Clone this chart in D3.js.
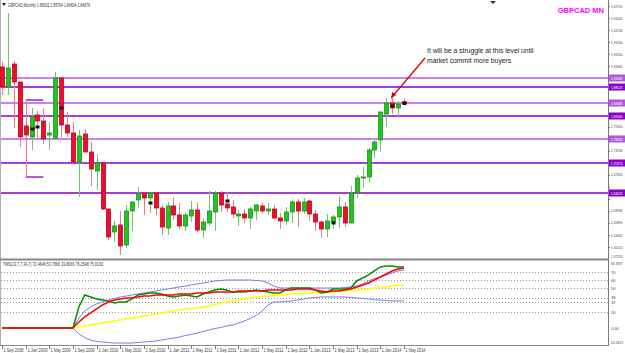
<!DOCTYPE html>
<html>
<head>
<meta charset="utf-8">
<script src="https://cdn.jsdelivr.net/npm/d3@7/dist/d3.min.js"></script>
<style>
body { margin: 0; background: #fff; }
svg text { font-family: "Liberation Sans", Arial, sans-serif; }
</style>
</head>
<body>
<svg id="chart" width="625" height="353"></svg>
<script>
// GBPCAD monthly candles, Sep 2008 .. May 2014
const openPrices = [1.9332,1.8852,1.9404,1.8972,1.7916,1.7652,1.8180,1.8036,1.7700,1.7628,
    1.9068,1.7940,1.7748,1.7051,1.7724,1.7291,1.6835,1.7027,1.5923,1.5371,
    1.5539,1.5059,1.5875,1.6139,1.6307,1.6187,1.6307,1.5947,1.5467,1.5995,
    1.5779,1.5515,1.5755,1.5899,1.5419,1.5587,1.5851,1.6307,1.6043,1.5971,
    1.5755,1.5803,1.5707,1.5875,1.5995,1.5875,1.5923,1.5707,1.5635,1.5851,
    1.6091,1.5875,1.6115,1.5803,1.5611,1.5443,1.5611,1.5731,1.5971,1.5587,
    1.6307,1.6667,1.6691,1.7339,1.7580,1.8204,1.8468,1.8348,1.8500];
const highPrices = [1.9452,2.0629,1.9476,1.8972,1.8540,1.8348,1.8276,1.8348,1.8012,1.9212,
    1.9068,1.8252,1.8012,1.7820,1.7844,1.7532,1.7243,1.7027,1.5923,1.5635,
    1.5875,1.6019,1.6091,1.6451,1.6331,1.6331,1.6331,1.6019,1.6091,1.6187,
    1.6067,1.5851,1.6115,1.6091,1.5707,1.6355,1.6355,1.6355,1.6331,1.6139,
    1.5899,1.5923,1.5971,1.6043,1.6067,1.6067,1.6019,1.5827,1.5971,1.6139,
    1.6163,1.6187,1.6139,1.5899,1.5635,1.5803,1.5779,1.6235,1.6091,1.6475,
    1.6739,1.6931,1.7388,1.7604,1.8252,1.8588,1.8588,1.8516,1.8576];
const lowPrices = [1.8660,1.8660,1.7868,1.7412,1.6691,1.7339,1.7580,1.7484,1.7339,1.7628,
    1.7652,1.7652,1.7051,1.6211,1.7291,1.6475,1.6379,1.5899,1.5179,1.5131,
    1.4818,1.4987,1.5395,1.5947,1.5779,1.5827,1.5779,1.5299,1.5299,1.5659,
    1.5443,1.5395,1.5611,1.5371,1.5227,1.5515,1.5395,1.5851,1.5851,1.5707,
    1.5515,1.5587,1.5443,1.5659,1.5827,1.5779,1.5659,1.5443,1.5539,1.5587,
    1.5491,1.5803,1.5635,1.5395,1.5227,1.5251,1.5443,1.5467,1.5491,1.5587,
    1.6187,1.6427,1.6547,1.7147,1.7291,1.7892,1.8204,1.8108,1.8463];
const closePrices = [1.8852,1.9308,1.8972,1.7652,1.7700,1.8132,1.8036,1.7604,1.7748,1.9068,
    1.7940,1.7748,1.7051,1.7676,1.7291,1.6883,1.7027,1.5923,1.5251,1.5515,
    1.5035,1.5875,1.6091,1.6283,1.6187,1.6307,1.5947,1.5491,1.5995,1.5779,
    1.5515,1.5779,1.5899,1.5419,1.5611,1.5875,1.6307,1.6019,1.5947,1.5803,
    1.5803,1.5707,1.5923,1.6019,1.5875,1.5923,1.5707,1.5635,1.5851,1.6091,
    1.5875,1.6091,1.5803,1.5611,1.5443,1.5635,1.5731,1.5971,1.5587,1.6307,
    1.6667,1.6691,1.7339,1.7532,1.8252,1.8468,1.8348,1.8444,1.8468];

const dateLabels = ["1 Sep 2008","1 Jan 2009","1 May 2009","1 Sep 2009","1 Jan 2010","1 May 2010",
    "1 Sep 2010","1 Jan 2011","1 May 2011","1 Sep 2011","1 Jan 2012","1 May 2012",
    "1 Sep 2012","1 Jan 2013","1 May 2013","1 Sep 2013","1 Jan 2014","1 May 2014"];

const priceTicks = [1.5011,1.5300,1.5589,1.5878,1.6167,1.6456,1.6745,1.7034,1.7323,1.7612,1.7901,
    1.8190,1.8479,1.8768,1.9057,1.9346,1.9635,1.9924,2.0213,2.0502,2.0791];

// horizontal levels drawn on the chart
const levelLight = [1.9068, 1.8468, 1.7604];
const levelDark = [1.8852, 1.8156, 1.7027, 1.6307];
const shortLevels = [1.8540, 1.6691];
const shortFrom = 4, shortTo = 7;

// black signal markers (bar index, price)
const markerIdx = [5, 6, 10, 25, 38, 56, 66, 68];
const markerPrice = [1.7844, 1.7892, 1.8348, 1.6067, 1.6115, 1.5587, 1.8396, 1.8456];

// TMS indicator (bands and base line start at bar 12)
const tmsGreen = [0,0,0,0,0,0,0,0,0,0,0,0,0,26.3,41.3,38.8,36.3,35.0,33.8,31.3,
    32.5,32.5,36.3,41.3,42.5,43.8,43.8,42.5,40.0,38.8,40.0,41.3,40.0,38.8,42.5,45.0,
    47.5,48.8,47.5,45.0,45.0,45.0,46.3,47.5,46.3,45.0,43.8,43.8,47.5,50.0,50.0,50.0,
    50.0,47.5,43.8,45.0,48.8,48.8,48.8,50.0,58.8,62.5,66.3,71.3,76.3,77.5,77.5,76.3,76.3];
const tmsRed = [0,0,0,0,0,0,0,0,0,0,0,0,0,7.5,13.8,18.8,23.8,28.8,32.5,35.0,
    36.3,37.5,37.5,38.8,40.0,40.0,41.3,41.3,41.3,41.3,42.5,42.5,42.5,43.8,43.8,43.8,
    45.0,45.0,45.0,45.0,46.3,46.3,46.3,46.3,46.3,47.5,47.5,47.5,47.5,47.5,48.8,48.8,
    48.8,47.5,46.3,45.0,46.3,46.3,47.5,48.8,51.3,53.8,56.3,60.0,63.8,67.5,71.3,73.8,75.0];
const tmsYellow = [0,1.3,2.5,3.8,5.0,6.3,7.5,8.8,10.0,11.3,12.5,13.8,15.0,16.3,17.5,18.8,
    20.0,21.3,22.5,23.8,24.4,25.0,26.3,27.5,29.4,31.3,32.5,33.8,35.0,36.3,37.5,38.8,
    39.4,40.0,40.6,41.3,41.9,42.5,42.5,43.1,43.8,43.8,43.8,44.4,45.0,45.6,46.3,46.9,
    47.5,48.1,48.8,50.0,50.6,51.3,52.5,53.1,53.8];
const tmsUpper = [0,12.5,21.3,26.3,30.0,32.5,35.0,36.9,38.8,40.0,41.3,42.5,43.8,45.0,
    46.3,47.5,48.8,50.0,51.3,52.5,53.8,55.0,56.3,57.5,58.8,59.4,60.0,60.0,60.0,60.0,
    60.0,59.4,58.8,56.3,52.5,50.0,50.0,50.0,50.0,50.0,50.0,50.0,50.0,50.0,50.0,50.0,
    50.6,51.3,52.5,55.0,58.8,61.9,63.8,66.3,68.8,71.3,72.5];
const tmsLower = [0,-7.5,-11.9,-15.0,-16.9,-17.5,-18.1,-18.8,-18.8,-18.8,-18.8,-18.1,
    -17.5,-16.9,-16.3,-15.0,-13.8,-12.5,-11.3,-9.4,-8.1,-6.3,-4.4,-2.5,-0.6,0.6,2.5,
    3.8,6.3,8.8,11.9,15.6,21.3,28.8,32.5,32.5,33.1,33.8,35.0,36.3,37.5,38.1,38.8,38.8,
    38.8,38.8,38.8,38.1,37.5,36.9,36.3,35.6,35.0,34.4,33.8,33.8,33.8];
const tmsStart = 12;
const tmsLevels = [70, 60, 50, 38, 32, 20];
const tmsLevelLabels = ["70", "60", "50", "38", "32", "20"];

const svg = d3.select("#chart");
const plotRight = 608;

var x = d3.scaleLinear().domain([0, 68]).range([2, 404]);
var y = d3.scaleLinear().domain([1.4722, 2.0941]).range([259, 0]);
var yi = d3.scaleLinear().domain([-21.25, 85]).range([345, 260]);

function smallText(xx, yy, str, size, fill, len) {
    var t = svg.append("text").attr("x", xx).attr("y", yy).attr("font-size", size)
        .attr("fill", fill).text(str);
    if (len) t.attr("textLength", len).attr("lengthAdjust", "spacingAndGlyphs");
    return t;
}

// frame
svg.append("line").attr("x1", 0.5).attr("x2", 0.5).attr("y1", 0).attr("y2", 346)
    .attr("stroke", "#b0b0b0").attr("stroke-width", 1);
svg.append("line").attr("x1", plotRight + 0.5).attr("x2", plotRight + 0.5).attr("y1", 0).attr("y2", 346)
    .attr("stroke", "#777").attr("stroke-width", 1);
svg.append("line").attr("x1", 0).attr("x2", plotRight).attr("y1", 259.5).attr("y2", 259.5)
    .attr("stroke", "#888").attr("stroke-width", 2);
svg.append("line").attr("x1", 0).attr("x2", plotRight).attr("y1", 345.5).attr("y2", 345.5)
    .attr("stroke", "#888").attr("stroke-width", 1);

// header
svg.append("path").attr("d", "M2,3 L6,3 L4,6 Z").attr("fill", "#222");
smallText(8, 6.5, "GBPCAD,Monthly  1.85002 1.85764 1.84634 1.84679", 4.5, "#333", 82);
svg.append("path").attr("d", "M490,1 L496,1 L493,4 Z").attr("fill", "#333");
svg.append("text").attr("x", 604).attr("y", 13).attr("text-anchor", "end")
    .attr("font-size", 7.5).attr("font-weight", "bold").attr("fill", "#ff00ff").text("GBPCAD MN");

// price axis (skip ticks hidden behind level boxes)
var allLevels = levelLight.concat(levelDark);
priceTicks.forEach(function(p) {
    svg.append("line").attr("x1", plotRight).attr("x2", plotRight + 2)
        .attr("y1", Math.round(y(p)) + 0.5).attr("y2", Math.round(y(p)) + 0.5).attr("stroke", "#777");
    if (allLevels.some(l => Math.abs(y(l) - y(p)) < 7)) return;
    smallText(611, y(p) + 1.6, p.toFixed(5), 4, "#444", 11.5);
});
smallText(611, 258, "1.47220", 4, "#444", 11.5);

// horizontal levels
function drawLevel(p, color, w, x1, x2) {
    svg.append("line").attr("x1", x1).attr("x2", x2)
        .attr("y1", y(p)).attr("y2", y(p)).attr("stroke", color).attr("stroke-width", w);
}
levelLight.forEach(p => drawLevel(p, "#cc80ee", 2, 1, plotRight));
levelDark.forEach(p => drawLevel(p, "#8a00cc", 1.3, 1, plotRight));
shortLevels.forEach(p => drawLevel(p, "#8a00cc", 1.3, x(shortFrom), x(shortTo)));

// candles
var bars = d3.range(openPrices.length);
var candle = svg.append("g");
candle.selectAll("line.wick").data(bars).enter().append("line")
    .attr("x1", i => Math.round(x(i)) + 0.5).attr("x2", i => Math.round(x(i)) + 0.5)
    .attr("y1", i => y(highPrices[i])).attr("y2", i => y(lowPrices[i]))
    .attr("stroke", i => closePrices[i] >= openPrices[i] ? "#6cc86c" : "#f07a86")
    .attr("stroke-width", 1);
candle.selectAll("rect").data(bars).enter().append("rect")
    .attr("x", i => Math.round(x(i)) - 1.5)
    .attr("width", 4)
    .attr("y", i => y(Math.max(openPrices[i], closePrices[i])))
    .attr("height", i => Math.max(1, Math.abs(y(openPrices[i]) - y(closePrices[i]))))
    .attr("fill", i => closePrices[i] >= openPrices[i] ? "#22c322" : "#e8102c")
    .attr("stroke", i => closePrices[i] >= openPrices[i] ? "#119911" : "#c8001c")
    .attr("stroke-width", 0.8);

// markers
markerIdx.forEach(function(idx, k) {
    svg.append("rect").attr("x", Math.round(x(idx)) - 1.5).attr("y", y(markerPrice[k]) - 1.5)
        .attr("width", 4).attr("height", 3).attr("fill", "#111");
});

// level labels on the axis
function levelBox(p, color) {
    svg.append("rect").attr("x", plotRight + 1).attr("y", y(p) - 3.5).attr("width", 16).attr("height", 7)
        .attr("fill", color);
    smallText(plotRight + 3, y(p) + 1.6, p.toFixed(5), 4, "#fff", 11.5);
}
levelLight.forEach(p => levelBox(p, "#b455e0"));
levelDark.forEach(p => levelBox(p, "#8a00cc"));

// annotation
svg.append("text").attr("x", 427).attr("y", 53).attr("font-size", 6.8).attr("fill", "#222")
    .text("It will be a struggle at this level until");
svg.append("text").attr("x", 427).attr("y", 63).attr("font-size", 6.8).attr("fill", "#222")
    .text("market commit more buyers");
var tipX = x(66) - 1, tipY = y(highPrices[66]);
svg.append("line").attr("x1", 425).attr("y1", 58).attr("x2", tipX).attr("y2", tipY)
    .attr("stroke", "#d00000").attr("stroke-width", 1.2);
svg.append("path").attr("d", `M${tipX},${tipY} l1,-6 l4,3 Z`).attr("fill", "#d00000");

// indicator panel
smallText(3, 266, "TMS(13,7,7,34,7) 72.4646 53.7666 33.8066 76.2548 75.0163", 4.5, "#333", 100);
tmsLevels.forEach(function(v, k) {
    svg.append("line").attr("x1", 1).attr("x2", plotRight).attr("y1", Math.round(yi(v)) + 0.5)
        .attr("y2", Math.round(yi(v)) + 0.5).attr("stroke", "#999").attr("stroke-dasharray", "1,2");
    smallText(611, yi(v) + 1.6, tmsLevelLabels[k], 4, "#444");
});
smallText(611, 265, "84.3937", 4, "#444", 11.5);
smallText(611, yi(0) + 1.6, "0.00", 4, "#444");
smallText(610, 344, "-20.3413", 4, "#444", 13);

var line = d3.line().x(d => x(d[0])).y(d => yi(d[1]));
function tmsLine(values, offset, color, w) {
    svg.append("path").datum(values.map((v, i) => [i + offset, v]))
        .attr("fill", "none").attr("stroke", color).attr("stroke-width", w).attr("d", line);
}
tmsLine(tmsUpper, tmsStart, "#7b7be8", 1);
tmsLine(tmsLower, tmsStart, "#7b7be8", 1);
tmsLine(tmsYellow, tmsStart, "#ffff00", 1.5);
tmsLine(tmsGreen, 0, "#009000", 1.5);
tmsLine(tmsRed, 0, "#ff0000", 1.5);

// time axis
dateLabels.forEach(function(lbl, k) {
    var xx = Math.round(x(k * 4)) + 0.5;
    svg.append("line").attr("x1", xx).attr("x2", xx).attr("y1", 346).attr("y2", 349).attr("stroke", "#777");
    smallText(xx + 1, 352, lbl, 4.5, "#444", 20);
});
</script>
</body>
</html>
